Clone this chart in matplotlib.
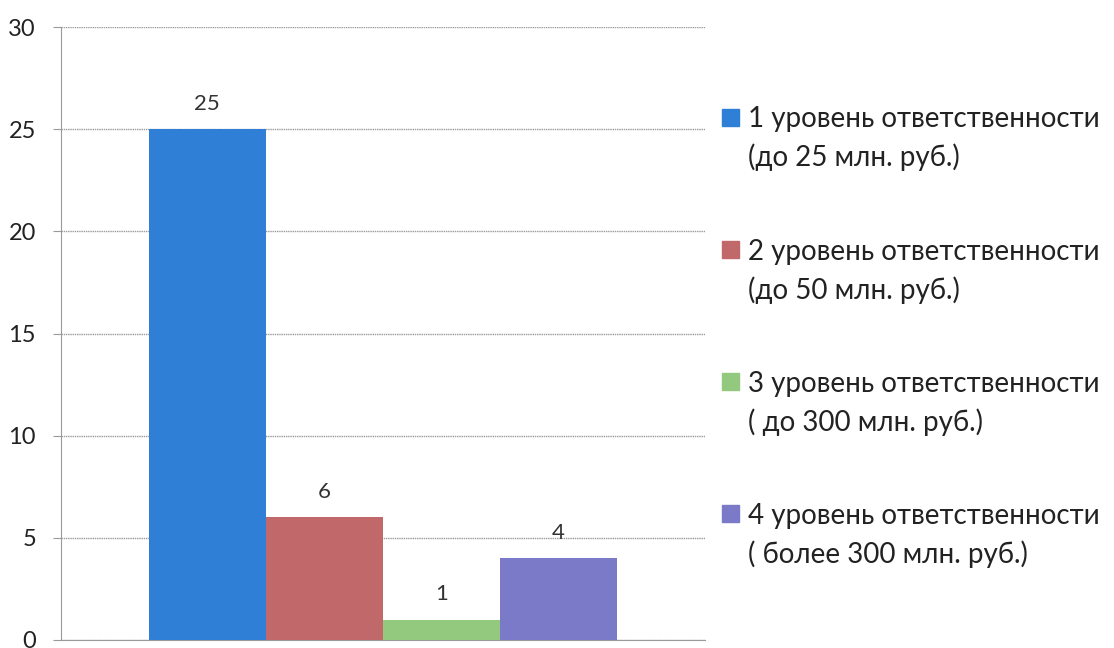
import numpy as np
import matplotlib.pyplot as plt
from matplotlib.patches import Rectangle

# data
labels = ["1 уровень ответственности\n(до 25 млн. руб.)",
          "2 уровень ответственности\n(до 50 млн. руб.)",
          "3 уровень ответственности\n( до 300 млн. руб.)",
          "4 уровень ответственности\n( более 300 млн. руб.)"]
values = [25, 6, 1, 4]
colors = ["#2f7fd6", "#c0686a", "#93c97e", "#7a7ac8"]
yticks = [0, 5, 10, 15, 20, 25, 30]

plt.rcParams['font.family'] = ['Lato', 'DejaVu Sans']

W, H = 1114., 648.
fig = plt.figure(figsize=(W / 100, H / 100), dpi=100)
ax = fig.add_axes([61 / W, 8 / H, 644 / W, 613 / H])

offs = np.arange(len(values)) - (len(values) - 1) / 2.
for i in range(len(values)):
    ax.bar(offs[i], values[i], width=1.0, color=colors[i], zorder=3)
    ax.text(offs[i], values[i] + 0.75, str(values[i]), ha='center', va='bottom',
            fontsize=16, color='#333333', zorder=4)

ax.set_xlim(-2.75, 2.75)
ax.set_ylim(0, 30)
ax.set_yticks(yticks)
ax.set_xticks([])
ax.yaxis.grid(True, color='#9a9a9a', lw=1.0, ls=(0, (1, 0.6)), zorder=0)
for s in ['top', 'right']:
    ax.spines[s].set_visible(False)
ax.spines['left'].set_color('#9a9a9a')
ax.spines['bottom'].set_color('#9a9a9a')
ax.tick_params(axis='y', length=6, color='#9a9a9a', labelsize=17, labelcolor='#222222', pad=12)

# legend drawn by hand: marker next to first line of each label
for i in range(len(labels)):
    yc = 117 + 132.3 * i
    fig.add_artist(Rectangle((722 / W, 1 - (yc + 8.5) / H), 17 / W, 17 / H,
                             transform=fig.transFigure, color=colors[i]))
    for j, line in enumerate(labels[i].split('\n')):
        fig.text(748 / W, 1 - (yc + 38 * j) / H, line, ha='left', va='center_baseline',
                 fontsize=20, color='#222222')

plt.savefig('out.png', dpi=100)
